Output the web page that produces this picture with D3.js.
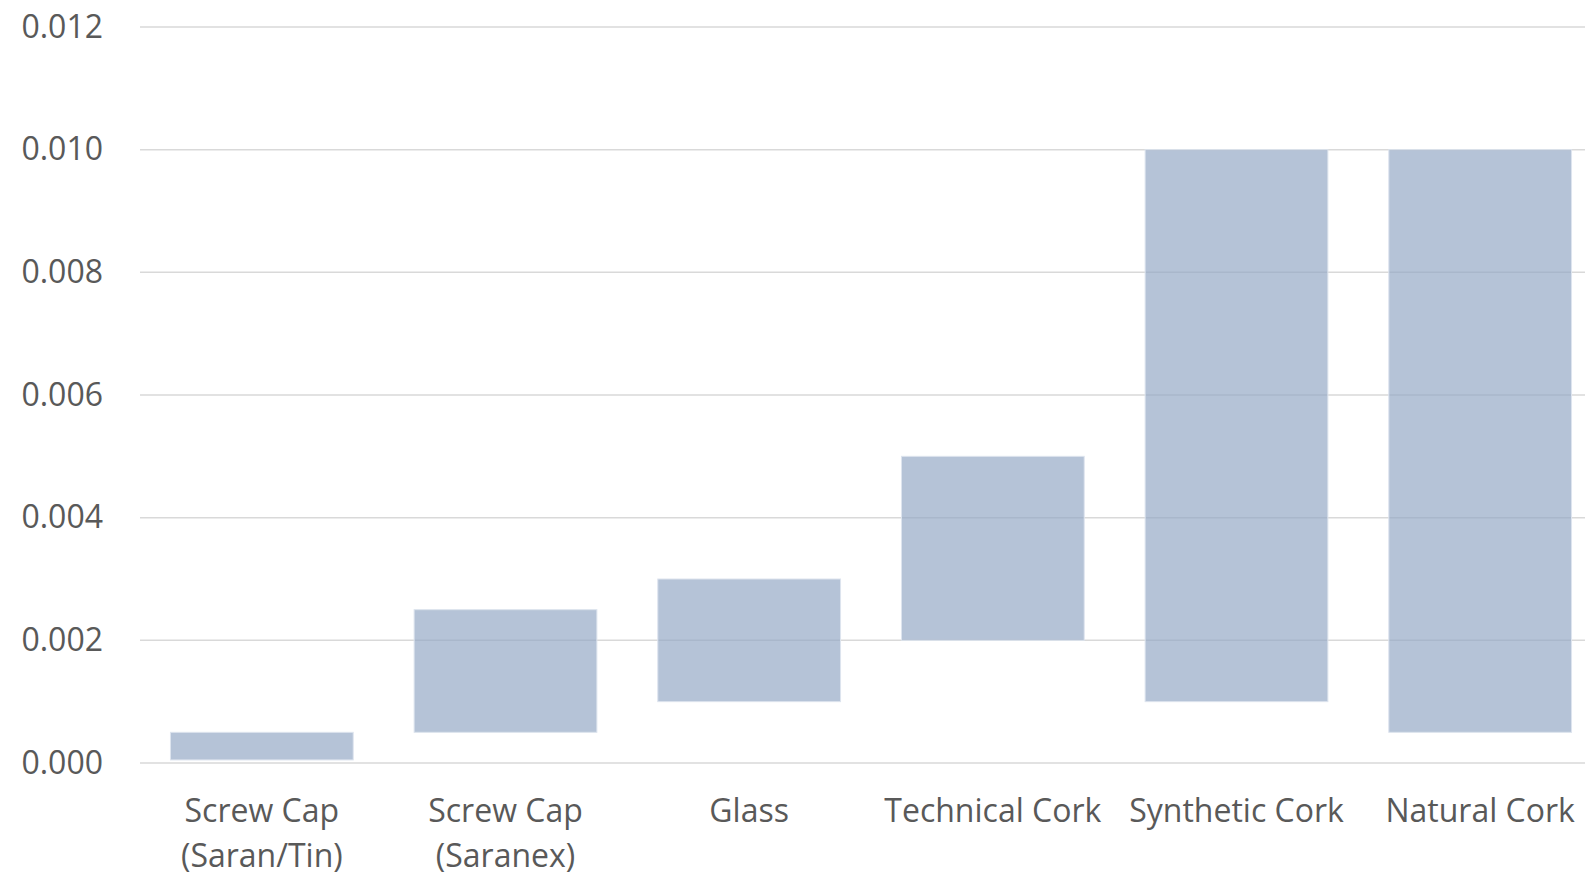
<!DOCTYPE html>
<html>
<head>
<meta charset="utf-8">
<script src="https://cdn.jsdelivr.net/npm/d3@7"></script>
<style>
  body { margin: 0; background: #fff; }
  text { font-family: "Open Sans", sans-serif; fill: #595959; }
</style>
</head>
<body>
<div id="chart"></div>
<script>
// closure types and their oxygen range (low / high end of each floating bar)
const categories = ["Screw Cap (Saran/Tin)", "Screw Cap (Saranex)", "Glass", "Technical Cork", "Synthetic Cork", "Natural Cork"];
const lowValues = [0.00005, 0.0005, 0.001, 0.002, 0.001, 0.0005];
const highValues = [0.0005, 0.0025, 0.003, 0.005, 0.010, 0.010];
const yTicks = [0, 0.002, 0.004, 0.006, 0.008, 0.010, 0.012];

const width = 1585, height = 875;

const svg = d3.select('#chart').append('svg')
    .attr('width', width)
    .attr('height', height);

const x = d3.scaleBand()
    .domain(categories)
    .range([140, 1602])
    .paddingInner(0.25)
    .paddingOuter(0.125);

const y = d3.scaleLinear()
    .domain([0, 0.012])
    .range([763, 27]);

// gridlines
svg.append('g')
    .selectAll('line')
    .data(yTicks)
    .join('line')
    .attr('x1', 140)
    .attr('x2', width)
    .attr('y1', d => y(d))
    .attr('y2', d => y(d))
    .attr('stroke', '#d9d9d9')
    .attr('stroke-width', 1.5);

// y axis labels
const yAxis = d3.axisLeft(y)
    .tickValues(yTicks)
    .tickFormat(d3.format('.3f'))
    .tickSize(0)
    .tickPadding(0);

svg.append('g')
    .attr('transform', 'translate(103,0)')
    .call(yAxis)
    .call(g => g.select('.domain').remove())
    .selectAll('text')
    .attr('font-size', 32)
    .attr('font-family', '"Open Sans", sans-serif')
    .attr('fill', '#595959');

// floating bars
const bars = categories.map((c, i) => ({ c, lo: lowValues[i], hi: highValues[i] }));

svg.append('g')
    .selectAll('rect')
    .data(bars)
    .join('rect')
    .attr('x', d => x(d.c))
    .attr('width', x.bandwidth())
    .attr('y', d => y(d.hi))
    .attr('height', d => y(d.lo) - y(d.hi))
    .attr('fill', '#92a7c4')
    .attr('fill-opacity', 0.68)
    .attr('stroke', '#dde4ee')
    .attr('stroke-width', 1);

// category labels, wrapped before the bracket like Excel does
const labels = svg.append('g')
    .selectAll('text')
    .data(categories)
    .join('text')
    .attr('x', d => x(d) + x.bandwidth() / 2)
    .attr('y', 822)
    .attr('text-anchor', 'middle')
    .attr('font-size', 32);

labels.each(function(d) {
    const parts = d.split(' (');
    const t = d3.select(this);
    t.append('tspan').attr('x', x(d) + x.bandwidth() / 2).text(parts[0]);
    if (parts.length > 1) {
        t.append('tspan')
            .attr('x', x(d) + x.bandwidth() / 2)
            .attr('dy', 45)
            .text('(' + parts[1]);
    }
});
</script>
</body>
</html>
